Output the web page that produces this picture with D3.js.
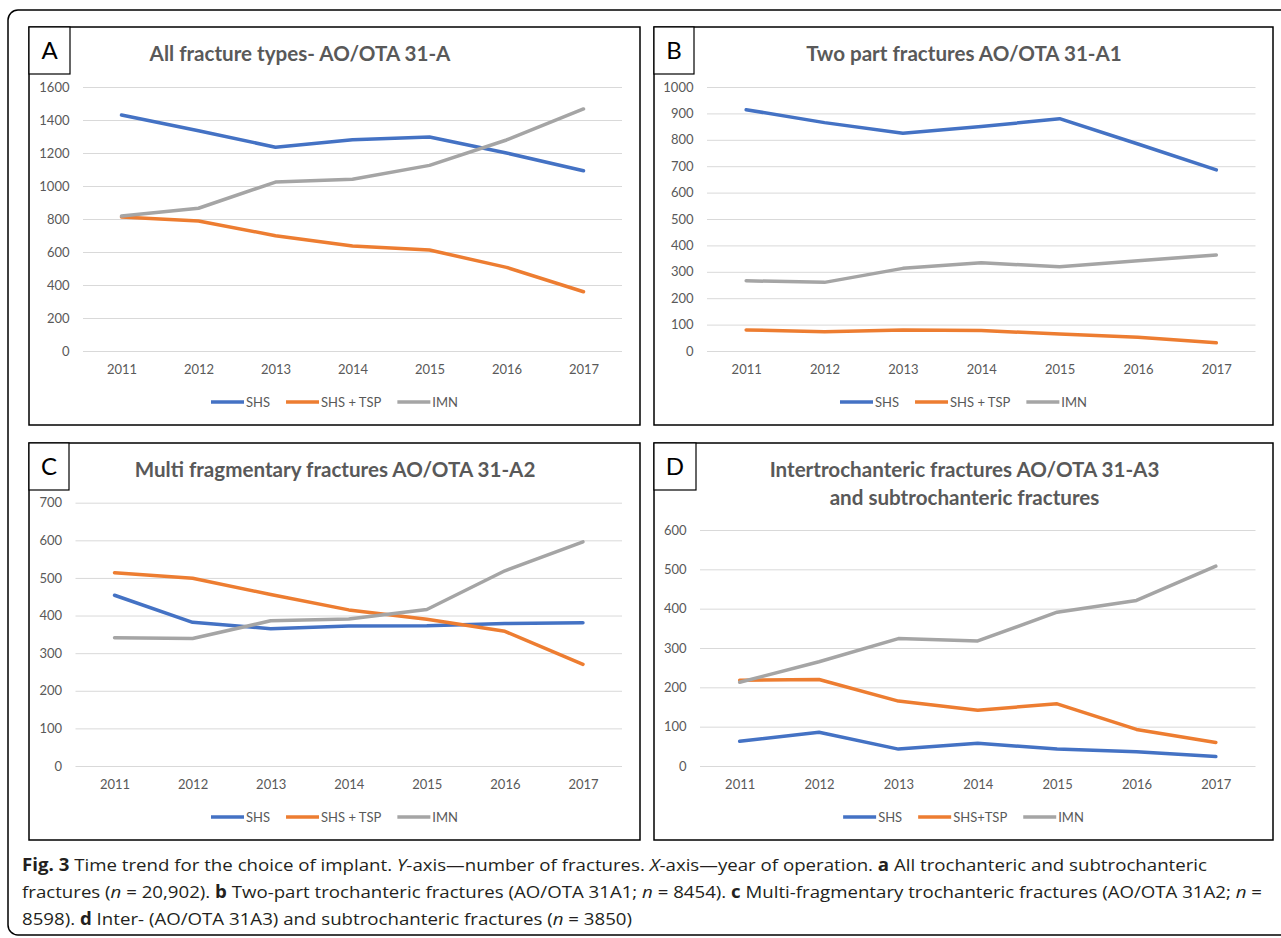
<html lang='en'>
<head>
  <meta charset='UTF-8'/>
  <title>Time trend for the choice of implant</title>
  <script src='https://d3js.org/d3.v7.min.js'></script>
  <style>
    body { margin: 0; background: #fff; }
    svg text { font-family: Lato, 'Open Sans', sans-serif; }
    .tick text { fill: #595959; font-size: 13px; }
    .grid .tick line { stroke: #D9D9D9; stroke-width: 1; }
    .caption text { font-family: 'Liberation Sans Narrow', 'Open Sans', sans-serif; fill: #231f20; font-size: 17px; }
  </style>
</head>
<body>
<svg id='fig' width='1281' height='938'></svg>
<script>
// data
const years = ['2011', '2012', '2013', '2014', '2015', '2016', '2017'];
const seriesNames = ['SHS', 'SHS + TSP', 'IMN'];
const seriesNamesD = ['SHS', 'SHS+TSP', 'IMN'];
const colors = ['#4472C4', '#ED7D31', '#A5A5A5'];

const shsA = [1430, 1335, 1235, 1280, 1297, 1200, 1092];
const tspA = [812, 788, 699, 636, 612, 507, 359];
const imnA = [818, 865, 1024, 1041, 1125, 1279, 1467];

const shsB = [914, 865, 825, 850, 880, 784, 686];
const tspB = [80, 73, 80, 78, 64, 52, 31];
const imnB = [266, 260, 313, 334, 319, 342, 364];

const shsC = [454, 382, 365, 372, 373, 379, 381];
const tspC = [514, 499, 456, 415, 390, 358, 270];
const imnC = [341, 339, 386, 391, 416, 519, 596];

const shsD = [63, 86, 43, 58, 43, 36, 24];
const tspD = [218, 220, 165, 142, 158, 93, 60];
const imnD = [213, 265, 324, 318, 391, 421, 508];

const panels = [
  { letter: 'A', title: ['All fracture types- AO/OTA 31-A'], names: seriesNames,
    data: [shsA, tspA, imnA], yMax: 1600, yStep: 200,
    box: [29, 27, 640, 425], letterBox: [29, 27, 70, 74], titleX: 300, titleY: 61,
    plot: [83, 622, 87, 351], legendY: 402 },
  { letter: 'B', title: ['Two part fractures AO/OTA 31-A1'], names: seriesNames,
    data: [shsB, tspB, imnB], yMax: 1000, yStep: 100,
    box: [654, 27, 1273, 425], letterBox: [654, 27, 694, 74], titleX: 964, titleY: 61,
    plot: [707, 1255.5, 87, 351], legendY: 402 },
  { letter: 'C', title: ['Multi fragmentary fractures AO/OTA 31-A2'], names: seriesNames,
    data: [shsC, tspC, imnC], yMax: 700, yStep: 100,
    box: [29, 443, 640, 840], letterBox: [29, 443, 69, 490], titleX: 335, titleY: 477,
    plot: [75.5, 622, 502.7, 766], legendY: 817 },
  { letter: 'D', title: ['Intertrochanteric fractures AO/OTA 31-A3', 'and subtrochanteric fractures'], names: seriesNamesD,
    data: [shsD, tspD, imnD], yMax: 600, yStep: 100,
    box: [654, 443, 1273, 840], letterBox: [654, 443, 696, 490], titleX: 964.5, titleY: 477,
    plot: [700, 1255.5, 530, 766], legendY: 817 }
];

const svg = d3.select('#fig');

// outer rounded frame
svg.append('rect')
  .attr('x', 8).attr('y', 10)
  .attr('width', 1300).attr('height', 925)
  .attr('rx', 10)
  .attr('fill', 'none').attr('stroke', '#000').attr('stroke-width', 1.5);

panels.forEach(p => {
  const g = svg.append('g');
  const [bx0, by0, bx1, by1] = p.box;
  const [px0, px1, py0, py1] = p.plot;

  g.append('rect')
    .attr('x', bx0).attr('y', by0).attr('width', bx1 - bx0).attr('height', by1 - by0)
    .attr('fill', '#fff').attr('stroke', '#000').attr('stroke-width', 1.5);

  const [lx0, ly0, lx1, ly1] = p.letterBox;
  g.append('rect')
    .attr('x', lx0).attr('y', ly0).attr('width', lx1 - lx0).attr('height', ly1 - ly0)
    .attr('fill', '#fff').attr('stroke', '#000').attr('stroke-width', 1.2);
  g.append('text')
    .attr('x', (lx0 + lx1) / 2).attr('y', (ly0 + ly1) / 2 + 8.5)
    .attr('text-anchor', 'middle')
    .style('font-size', '24px').style('fill', '#000')
    .text(p.letter);

  p.title.forEach((t, i) => {
    g.append('text')
      .attr('x', p.titleX).attr('y', p.titleY + i * 27.7)
      .attr('text-anchor', 'middle')
      .style('font-size', '20.6px').style('font-weight', 'bold').style('fill', '#595959')
      .text(t);
  });

  const x = d3.scalePoint().domain(years).range([px0, px1]).padding(0.5);
  const y = d3.scaleLinear().domain([0, p.yMax]).range([py1, py0]);

  g.append('g')
    .attr('class', 'grid')
    .attr('transform', `translate(${px0},0)`)
    .call(d3.axisLeft(y)
      .tickValues(d3.range(0, p.yMax + 1, p.yStep))
      .tickFormat(d3.format('d'))
      .tickSize(-(px1 - px0))
      .tickPadding(13.5))
    .call(a => a.select('.domain').remove());

  g.append('g')
    .attr('transform', `translate(0,${py1})`)
    .call(d3.axisBottom(x).tickSize(0).tickPadding(13.5))
    .call(a => a.select('.domain').remove());

  const line = d3.line().x((d, i) => x(years[i])).y(d => y(d));
  p.data.forEach((vals, k) => {
    g.append('path')
      .datum(vals)
      .attr('d', line)
      .attr('fill', 'none')
      .attr('stroke', colors[k])
      .attr('stroke-width', 3.5)
      .attr('stroke-linejoin', 'round')
      .attr('stroke-linecap', 'round');
  });

  // legend, centred on the panel
  const leg = g.append('g');
  let cx = 0;
  p.names.forEach((name, k) => {
    leg.append('line')
      .attr('x1', cx).attr('x2', cx + 33)
      .attr('y1', 0).attr('y2', 0)
      .attr('stroke', colors[k]).attr('stroke-width', 3.5);
    const t = leg.append('text')
      .attr('x', cx + 35).attr('y', 4.5)
      .style('font-size', '13px').style('fill', '#595959')
      .text(name);
    cx += 35 + t.node().getComputedTextLength() + 16;
  });
  const legW = cx - 16;
  leg.attr('transform', `translate(${(bx0 + bx1) / 2 - legW / 2},${p.legendY})`);
});

// caption
const cap = svg.append('g').attr('class', 'caption');
const captionLines = [
  { y: 871, w: 1185, parts: [['Fig. 3', 'b'], [' Time trend for the choice of implant. '], ['Y', 'i'], ['-axis\u2014number of fractures. '], ['X', 'i'], ['-axis\u2014year of operation. '], ['a', 'b'], [' All trochanteric and subtrochanteric']] },
  { y: 898, w: 1240, parts: [['fractures ('], ['n', 'i'], [' = 20,902). '], ['b', 'b'], [' Two-part trochanteric fractures (AO/OTA 31A1; '], ['n', 'i'], [' = 8454). '], ['c', 'b'], [' Multi-fragmentary trochanteric fractures (AO/OTA 31A2; '], ['n', 'i'], [' =']] },
  { y: 925, w: 610, parts: [['8598). '], ['d', 'b'], [' Inter- (AO/OTA 31A3) and subtrochanteric fractures ('], ['n', 'i'], [' = 3850)']] }
];
captionLines.forEach(l => {
  const t = cap.append('text').attr('x', 22).attr('y', l.y)
    .attr('textLength', l.w).attr('lengthAdjust', 'spacingAndGlyphs')
    .attr('xml:space', 'preserve');
  l.parts.forEach(([s, st]) => {
    const sp = t.append('tspan').text(s);
    if (st === 'b') sp.style('font-weight', 'bold');
    if (st === 'i') sp.style('font-style', 'italic');
  });
});
</script>
</body>
</html>
